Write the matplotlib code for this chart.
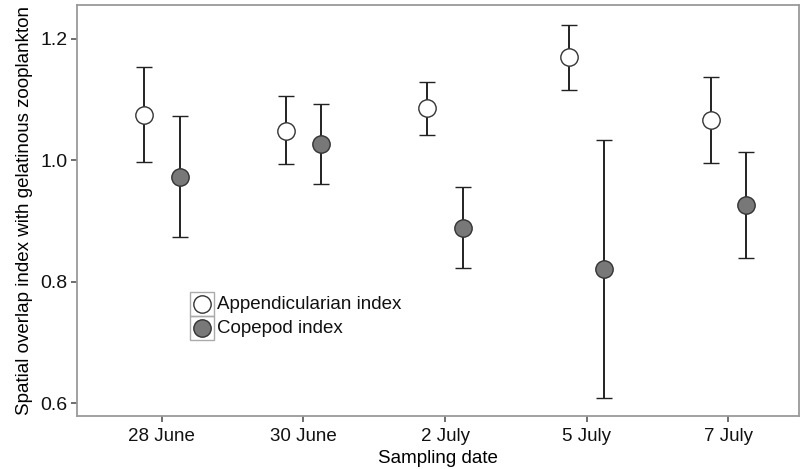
import matplotlib
matplotlib.use("Agg")
import matplotlib.pyplot as plt
import numpy as np
from matplotlib.patches import Rectangle

dates = ["28 June", "30 June", "2 July", "5 July", "7 July"]
app_mean = [1.075, 1.048, 1.085, 1.170, 1.066]
app_low = [0.997, 0.993, 1.041, 1.116, 0.996]
app_high = [1.153, 1.105, 1.128, 1.223, 1.137]
cop_mean = [0.972, 1.027, 0.889, 0.821, 0.927]
cop_low = [0.873, 0.961, 0.822, 0.609, 0.839]
cop_high = [1.072, 1.092, 0.955, 1.033, 1.013]
yticks = [0.6, 0.8, 1.0, 1.2]

plt.rcParams['font.family'] = ['Liberation Sans', 'DejaVu Sans']

fig = plt.figure(figsize=(8.06, 4.69), dpi=100)
ax = fig.add_axes([0.0955, 0.113, 0.8958, 0.876])

x = np.arange(len(dates))
off = 0.125
am = np.array(app_mean); cm = np.array(cop_mean)
ax.errorbar(x - off, am, yerr=[am - np.array(app_low), np.array(app_high) - am],
            fmt='o', ms=12.5, mfc='white', mec='#333333', mew=1.0,
            ecolor='#222222', elinewidth=1.4, capsize=5.5, capthick=1.4, zorder=3)
ax.errorbar(x + off, cm, yerr=[cm - np.array(cop_low), np.array(cop_high) - cm],
            fmt='o', ms=12.5, mfc='#787878', mec='#333333', mew=1.0,
            ecolor='#222222', elinewidth=1.4, capsize=5.5, capthick=1.4, zorder=3)

ax.set_xlim(-0.6, 4.5)
ax.set_ylim(0.579, 1.255)
ax.set_xticks(x)
ax.set_xticklabels(dates, fontsize=13.5)
ax.set_yticks(yticks)
ax.set_yticklabels([f"{v:.1f}" for v in yticks], fontsize=14)
ax.set_xlabel("Sampling date", fontsize=13.5, labelpad=3.5)
ax.set_ylabel("Spatial overlap index with gelatinous zooplankton", fontsize=13.5, labelpad=5)

for s in ax.spines.values():
    s.set_color('#9a9a9a')
    s.set_linewidth(1.3)
ax.tick_params(axis='both', direction='out', length=4.5, width=1.2, color='#555555', labelcolor='#111111')
ax.tick_params(axis='x', pad=4)
ax.tick_params(axis='y', pad=2.5)

# legend
lx0, lw = 0.1565, 0.0332
ax.add_patch(Rectangle((lx0, 0.243), lw, 0.0587, transform=ax.transAxes, fill=False, ec='#aaaaaa', lw=1.0))
ax.add_patch(Rectangle((lx0, 0.185), lw, 0.058, transform=ax.transAxes, fill=False, ec='#aaaaaa', lw=1.0))
ax.plot([lx0 + lw / 2], [0.272], 'o', ms=12.5, mfc='white', mec='#333333', mew=1.0, transform=ax.transAxes, clip_on=False)
ax.plot([lx0 + lw / 2], [0.214], 'o', ms=12.5, mfc='#787878', mec='#333333', mew=1.0, transform=ax.transAxes, clip_on=False)
ax.text(0.194, 0.272, "Appendicularian index", transform=ax.transAxes, va='center', ha='left', fontsize=13.5, color='#111111')
ax.text(0.194, 0.214, "Copepod index", transform=ax.transAxes, va='center', ha='left', fontsize=13.5, color='#111111')

fig.savefig("out.png", dpi=100)
